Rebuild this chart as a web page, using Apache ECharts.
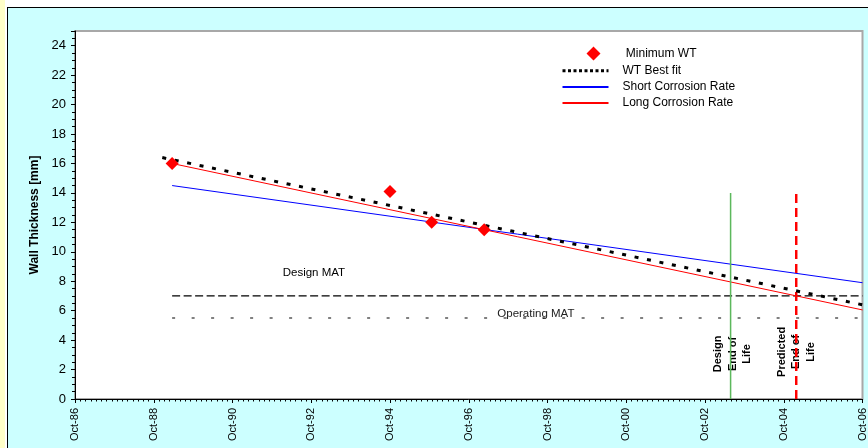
<!DOCTYPE html>
<html>
<head>
<meta charset="utf-8">
<script src="https://cdn.jsdelivr.net/npm/echarts@6/dist/echarts.min.js"></script>
<style>
    html, body { margin: 0; padding: 0; background: #fff; }
    #strip { position: absolute; left: 0; top: 0; width: 5px; height: 448px; background: #ffffc8; }
    #frame { position: absolute; left: 7px; top: 7px; width: 900px; height: 500px; border: 1px solid #000; background: #ccffff; }
    #main { position: absolute; left: 0; top: 0; width: 868px; height: 448px; }
</style>
</head>
<body>
<div id="strip"></div>
<div id="frame"></div>
<div id="main"></div>
<script>
// x values are dates, converted to months since Oct-86
const tickLabels = ['Oct-86', 'Oct-88', 'Oct-90', 'Oct-92', 'Oct-94', 'Oct-96', 'Oct-98', 'Oct-00', 'Oct-02', 'Oct-04', 'Oct-06'];

// 最小壁厚测量点
const wtDates = ['1989-03-19', '1994-10-01', '1995-10-22', '1997-02-22'];
const wtValues = [16.0, 14.1, 12.0, 11.5];

// 拟合线
const fitDates = ['1988-12-19', '2006-10-01'];
const fitValues = [16.4, 6.4];

// 腐蚀速率线
const rateDates = ['1989-03-19', '2006-10-01'];
const shortValues = [14.5, 7.9];
const longValues = [16.0, 6.05];

// MAT
const matDates = ['1989-03-19', '2006-10-01'];
const designMatValues = [7, 7];
const operatingMatValues = [5.5, 5.5];

// End of life
const designEolDate = '2003-05-25';
const predictedEolDate = '2005-01-25';
const eolValues = [0, 14];

function toMonths(d) {
    const [y, m, dd] = d.split('-').map(Number);
    return (y - 1986) * 12 + (m - 10) + (dd - 1) / 30;
}
function pairs(dates, values) {
    return dates.map((d, i) => [toMonths(d), values[i]]);
}

const font = 'Liberation Sans, Arial, sans-serif';
const chart = echarts.init(document.getElementById('main'), null, { renderer: 'canvas' });
const hideSymbol = { opacity: 0 };

chart.setOption({
    animation: false,
    textStyle: { fontFamily: font },
    grid: {
        left: 75, right: 4, top: 31, bottom: 49,
        show: true, backgroundColor: '#fff', borderColor: '#a8a8a8', borderWidth: 2
    },
    legend: {
        orient: 'vertical',
        left: 556, top: 41.5,
        itemWidth: 46, itemHeight: 14, itemGap: 4.2,
        symbolKeepAspect: true,
        textStyle: { fontSize: 12, color: '#000', fontFamily: font, padding: [0, 0, 0, 9] },
        formatter: (n) => (n === 'Minimum WT' ? ' ' + n : n),
        data: [
            // 菱形图标略向右偏
            { name: 'Minimum WT', icon: 'path://M-16,7 L-16,7.01 Z M7,0 L14,7 L7,14 L0,7 Z', symbolKeepAspect: true },
            { name: 'WT Best fit', lineStyle: { type: [3, 2.5], width: 3 }, itemStyle: hideSymbol },
            { name: 'Short Corrosion Rate', itemStyle: hideSymbol },
            { name: 'Long Corrosion Rate', itemStyle: hideSymbol }
        ]
    },
    xAxis: {
        type: 'value', min: 0, max: 240, interval: 24,
        axisLine: { lineStyle: { color: '#000', width: 1 } },
        axisTick: { length: 4, lineStyle: { color: '#000' } },
        minorTick: { show: true, splitNumber: 15, length: 2.5, lineStyle: { color: '#000' } },
        splitLine: { show: false },
        axisLabel: {
            rotate: 90, fontSize: 11, color: '#000', margin: 9, fontFamily: font,
            formatter: (v) => tickLabels[Math.round(v / 24)]
        }
    },
    yAxis: {
        type: 'value', min: 0, max: 25, interval: 2,
        name: 'Wall Thickness [mm]', nameLocation: 'middle', nameGap: 30,
        nameTextStyle: { fontSize: 12, fontWeight: 'bold', color: '#000', fontFamily: font },
        axisLine: { show: true, lineStyle: { color: '#000', width: 1 } },
        axisTick: { length: 4, lineStyle: { color: '#000' } },
        minorTick: { show: true, splitNumber: 4, length: 3, lineStyle: { color: '#000' } },
        splitLine: { show: false },
        axisLabel: { fontSize: 13, color: '#000', margin: 9, showMaxLabel: false, fontFamily: font }
    },
    series: [
        {
            name: 'Minimum WT', type: 'scatter', symbol: 'diamond', symbolSize: 13,
            symbolKeepAspect: true, z: 10,
            itemStyle: { color: '#ff0000', opacity: 1 },
            data: pairs(wtDates, wtValues)
        },
        {
            name: 'WT Best fit', type: 'line', symbol: 'none', z: 6,
            lineStyle: { color: '#000', width: 3, type: [4, 8.7] },
            itemStyle: { color: '#000' },
            data: pairs(fitDates, fitValues)
        },
        {
            name: 'Short Corrosion Rate', type: 'line', symbol: 'none', z: 4,
            lineStyle: { color: '#0000ff', width: 1 },
            itemStyle: { color: '#0000ff' },
            data: pairs(rateDates, shortValues)
        },
        {
            name: 'Long Corrosion Rate', type: 'line', symbol: 'none', z: 4,
            lineStyle: { color: '#ff0000', width: 1 },
            itemStyle: { color: '#ff0000' },
            data: pairs(rateDates, longValues)
        },
        {
            name: 'Design MAT', type: 'line', symbol: 'none', z: 3,
            lineStyle: { color: '#000', width: 1.2, type: [8, 3.5] },
            data: pairs(matDates, designMatValues),
            markPoint: {
                symbolSize: 0,
                label: { show: true, position: 'right', distance: 0, fontSize: 11.5, color: '#000', formatter: 'Design MAT' },
                data: [{ coord: [63.3, 8.55] }]
            }
        },
        {
            name: 'Operating MAT', type: 'line', symbol: 'none', z: 3,
            lineStyle: { color: '#808080', width: 2, type: [3, 16.5] },
            data: pairs(matDates, operatingMatValues),
            markPoint: {
                symbolSize: 0,
                label: { show: true, position: 'right', distance: 0, fontSize: 11.5, color: '#222', formatter: 'Operating MAT' },
                data: [{ coord: [128.7, 5.82] }]
            }
        },
        {
            name: 'Design End of Life', type: 'line', symbol: 'none', z: 5,
            lineStyle: { color: '#5cb85c', width: 1.5 },
            data: pairs([designEolDate, designEolDate], eolValues),
            markPoint: {
                symbolSize: 0,
                label: {
                    show: true, position: 'inside', rotate: 90, fontSize: 11, fontWeight: 'bold',
                    color: '#000', lineHeight: 14.5, align: 'center', verticalAlign: 'middle',
                    formatter: 'Design\nEnd of\nLife'
                },
                data: [{ coord: [toMonths(designEolDate) + 0.6, 3.06] }]
            }
        },
        {
            name: 'Predicted End of Life', type: 'line', symbol: 'none', z: 5,
            lineStyle: { color: '#ff0000', width: 2.5, type: [9, 5] },
            data: pairs([predictedEolDate, predictedEolDate], eolValues),
            markPoint: {
                symbolSize: 0,
                label: {
                    show: true, position: 'inside', rotate: 90, fontSize: 11, fontWeight: 'bold',
                    color: '#000', lineHeight: 14.5, align: 'center', verticalAlign: 'middle',
                    formatter: 'Predicted\nEnd of\nLife'
                },
                data: [{ coord: [toMonths(predictedEolDate), 3.2] }]
            }
        }
    ]
});
</script>
</body>
</html>
